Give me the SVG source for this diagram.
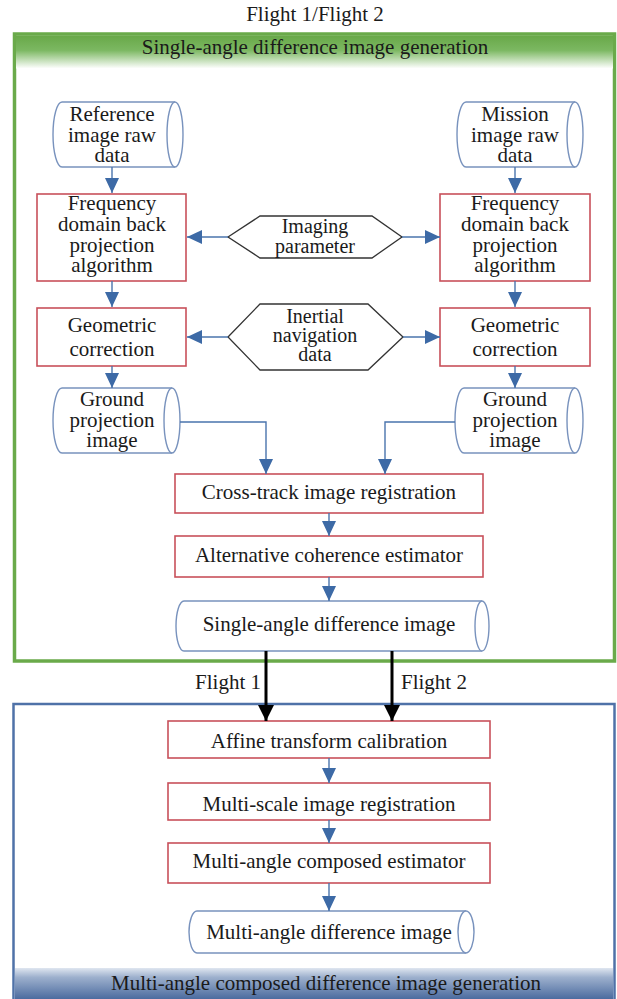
<svg xmlns="http://www.w3.org/2000/svg" width="617" height="999" viewBox="0 0 617 999">
<defs>
<style>
text{font-family:'Liberation Serif','Times New Roman',Times,'DejaVu Serif',serif;font-size:21px;fill:#1a1a1a;text-anchor:middle}
.sm{font-size:20px}
.rb{fill:#fff;stroke:#c8505a;stroke-width:1.6}
.cy{fill:#fff;stroke:#7892bd;stroke-width:1.4}
.hx{fill:#fff;stroke:#333;stroke-width:1.3}
.cn{fill:none;stroke:#4a74ad;stroke-width:1.4}
.bk{fill:none;stroke:#000;stroke-width:3}
</style>
<linearGradient id="gg" x1="0" y1="0" x2="0" y2="1">
<stop offset="0" stop-color="#68a848"/>
<stop offset="0.45" stop-color="#7cb862"/>
<stop offset="1" stop-color="#ffffff"/>
</linearGradient>
<linearGradient id="bg" x1="0" y1="0" x2="0" y2="1">
<stop offset="0" stop-color="#dfe6f0"/>
<stop offset="0.3" stop-color="#9db0cd"/>
<stop offset="1" stop-color="#4b6b9f"/>
</linearGradient>
<marker id="ab" markerUnits="userSpaceOnUse" markerWidth="15" markerHeight="14" refX="15" refY="7" orient="auto">
<path d="M0,0 L15,7 L0,14 Z" fill="#3d6aa6"/>
</marker>
<marker id="ak" markerUnits="userSpaceOnUse" markerWidth="16" markerHeight="16" refX="16" refY="8" orient="auto">
<path d="M0,0 L16,8 L0,16 Z" fill="#000"/>
</marker>
</defs>
<rect width="617" height="999" fill="#fff"/>

<text x="315" y="21" font-family="Liberation Serif, serif">Flight 1/Flight 2</text>

<g id="panel-single">
<rect x="14.5" y="34" width="600" height="627" fill="#fff" stroke="#6aaa4a" stroke-width="3.5"/>
<rect x="16" y="35.5" width="597" height="33" fill="url(#gg)"/>
<text x="315" y="54">Single-angle difference image generation</text>
</g>

<g id="panel-multi">
<rect x="13.5" y="704" width="601" height="300" fill="#fff" stroke="#4f72a8" stroke-width="2.5"/>
<rect x="15" y="968" width="598" height="31" fill="url(#bg)"/>
<text x="326" y="990">Multi-angle composed difference image generation</text>
</g>

<g id="n-ref-raw">
<path class="cy" d="M62,102 L175,102 A8,32.5 0 0 1 175,167 L62,167 A9,32.5 0 0 1 62,102 Z"/>
<path class="cy" d="M175,102 A8,32.5 0 0 0 175,167"/>
<text x="112" y="121">Reference</text>
<text x="112" y="142">image raw</text>
<text x="112" y="162">data</text>
</g>
<g id="n-mis-raw">
<path class="cy" d="M466,102 L575,102 A8,32.5 0 0 1 575,167 L466,167 A9,32.5 0 0 1 466,102 Z"/>
<path class="cy" d="M575,102 A8,32.5 0 0 0 575,167"/>
<text x="515" y="121">Mission</text>
<text x="515" y="142">image raw</text>
<text x="515" y="162">data</text>
</g>

<g id="n-fbp-l">
<rect class="rb" x="37" y="194" width="149" height="87"/>
<text x="112" y="210">Frequency</text>
<text x="112" y="231">domain back</text>
<text x="112" y="252">projection</text>
<text x="112" y="272">algorithm</text>
</g>
<g id="n-fbp-r">
<rect class="rb" x="440" y="194" width="150" height="87"/>
<text x="515" y="210">Frequency</text>
<text x="515" y="231">domain back</text>
<text x="515" y="252">projection</text>
<text x="515" y="272">algorithm</text>
</g>

<g id="n-imaging">
<path class="hx" d="M228,237 L260,216 L372,216 L402,237 L372,258 L260,258 Z"/>
<text class="sm" x="315" y="233">Imaging</text>
<text class="sm" x="315" y="253">parameter</text>
</g>

<g id="n-geo-l">
<rect class="rb" x="37" y="308" width="149" height="58"/>
<text x="112" y="332">Geometric</text>
<text x="112" y="356">correction</text>
</g>
<g id="n-geo-r">
<rect class="rb" x="440" y="308" width="150" height="58"/>
<text x="515" y="332">Geometric</text>
<text x="515" y="356">correction</text>
</g>

<g id="n-inertial">
<path class="hx" d="M228,337 L260,304 L368,304 L403,337 L368,370 L260,370 Z"/>
<text class="sm" x="315" y="323">Inertial</text>
<text class="sm" x="315" y="342">navigation</text>
<text class="sm" x="315" y="361">data</text>
</g>

<g id="n-ground-l">
<path class="cy" d="M62,388 L172,388 A8,32.5 0 0 1 172,453 L62,453 A9,32.5 0 0 1 62,388 Z"/>
<path class="cy" d="M172,388 A8,32.5 0 0 0 172,453"/>
<text x="112" y="406">Ground</text>
<text x="112" y="427">projection</text>
<text x="112" y="447">image</text>
</g>
<g id="n-ground-r">
<path class="cy" d="M464,388 L575,388 A8,32.5 0 0 1 575,453 L464,453 A9,32.5 0 0 1 464,388 Z"/>
<path class="cy" d="M575,388 A8,32.5 0 0 0 575,453"/>
<text x="515" y="406">Ground</text>
<text x="515" y="427">projection</text>
<text x="515" y="447">image</text>
</g>

<g id="n-crosstrack">
<rect class="rb" x="175" y="474" width="308" height="39"/>
<text x="329" y="499">Cross-track image registration</text>
</g>
<g id="n-coherence">
<rect class="rb" x="175" y="536" width="308" height="41"/>
<text x="329" y="562">Alternative coherence estimator</text>
</g>
<g id="n-single-diff">
<path class="cy" d="M184,601 L482,601 A7,25 0 0 1 482,651 L184,651 A8,25 0 0 1 184,601 Z"/>
<path class="cy" d="M482,601 A7,25 0 0 0 482,651"/>
<text x="329" y="631">Single-angle difference image</text>
</g>

<g id="n-affine">
<rect class="rb" x="168" y="721" width="322" height="37"/>
<text x="329" y="748">Affine transform calibration</text>
</g>
<g id="n-multiscale">
<rect class="rb" x="168" y="783" width="322" height="37"/>
<text x="329" y="811">Multi-scale image registration</text>
</g>
<g id="n-composed">
<rect class="rb" x="168" y="843" width="322" height="40"/>
<text x="329" y="868">Multi-angle composed estimator</text>
</g>
<g id="n-multi-diff">
<path class="cy" d="M197,911 L466,911 A8,21 0 0 1 466,953 L197,953 A8,21 0 0 1 197,911 Z"/>
<path class="cy" d="M466,911 A8,21 0 0 0 466,953"/>
<text x="329" y="939">Multi-angle difference image</text>
</g>

<g id="connectors">
<path class="cn" d="M112,167 V193" marker-end="url(#ab)"/>
<path class="cn" d="M112,281 V307" marker-end="url(#ab)"/>
<path class="cn" d="M112,366 V388" marker-end="url(#ab)"/>
<path class="cn" d="M515,167 V193" marker-end="url(#ab)"/>
<path class="cn" d="M515,281 V307" marker-end="url(#ab)"/>
<path class="cn" d="M515,366 V388" marker-end="url(#ab)"/>
<path class="cn" d="M228,237 H187" marker-end="url(#ab)"/>
<path class="cn" d="M402,237 H440" marker-end="url(#ab)"/>
<path class="cn" d="M228,337 H187" marker-end="url(#ab)"/>
<path class="cn" d="M403,337 H440" marker-end="url(#ab)"/>
<path class="cn" d="M180,422 H266 V474" marker-end="url(#ab)"/>
<path class="cn" d="M455,422 H385 V474" marker-end="url(#ab)"/>
<path class="cn" d="M329,513 V536" marker-end="url(#ab)"/>
<path class="cn" d="M329,577 V601" marker-end="url(#ab)"/>
<path class="bk" d="M266,651 V721" marker-end="url(#ak)"/>
<path class="bk" d="M392,651 V721" marker-end="url(#ak)"/>
<text x="261" y="689" style="text-anchor:end">Flight 1</text>
<text x="401" y="689" style="text-anchor:start">Flight 2</text>
<path class="cn" d="M329,758 V783" marker-end="url(#ab)"/>
<path class="cn" d="M329,820 V843" marker-end="url(#ab)"/>
<path class="cn" d="M329,883 V911" marker-end="url(#ab)"/>
</g>
</svg>
